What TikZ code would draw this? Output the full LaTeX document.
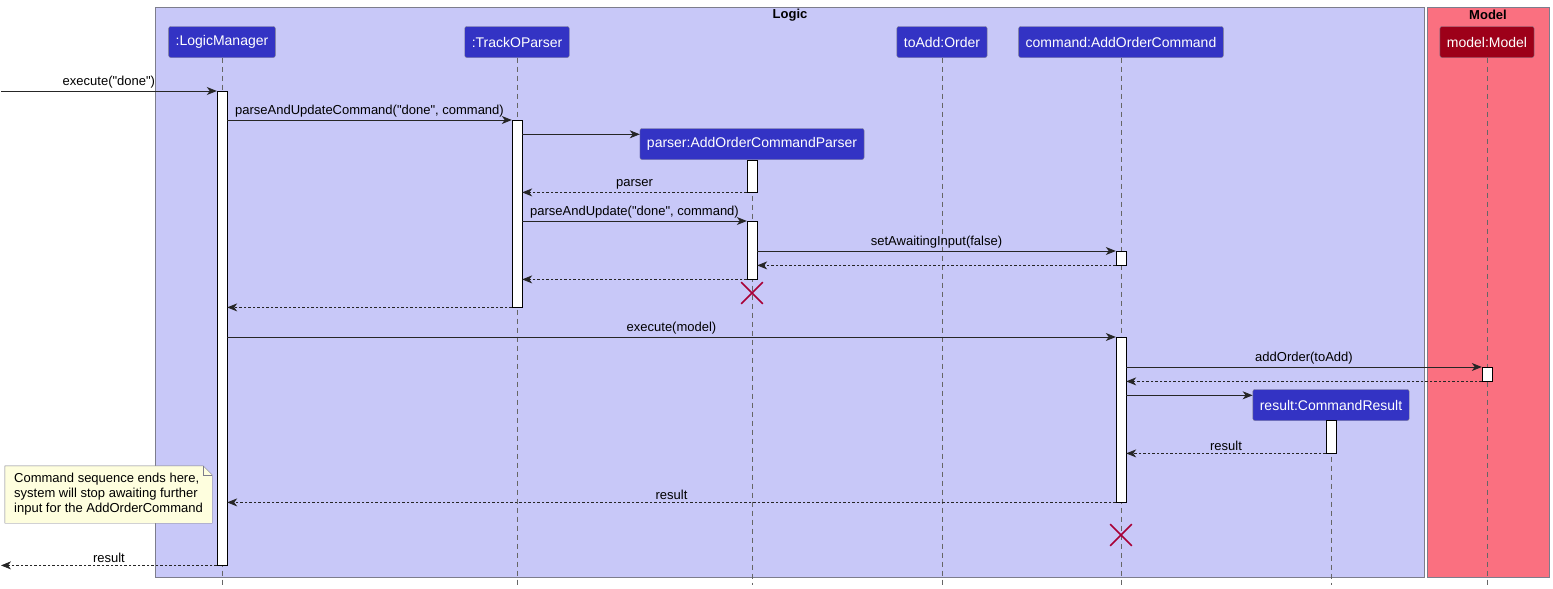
\documentclass[tikz,border=0pt]{standalone}
\usepackage{fontspec}
\setmainfont{Liberation Sans}[Ligatures=TeXOff]
\usetikzlibrary{arrows.meta,shapes.misc,backgrounds}

\definecolor{logicbg}{RGB}{200,200,248}
\definecolor{modelbg}{RGB}{250,112,128}
\definecolor{partblue}{RGB}{51,51,196}
\definecolor{partred}{RGB}{157,0,25}
\definecolor{framegray}{RGB}{125,125,140}
\definecolor{killred}{RGB}{168,0,54}
\definecolor{notebg}{RGB}{254,254,222}

\tikzset{
  head/.style={draw=framegray,fill=partblue,text=white,rounded corners=2pt,
    minimum height=31pt,inner xsep=7pt,font=\fontsize{14}{16}\selectfont},
  act/.style={draw=black,fill=white,minimum width=10pt,inner sep=0pt,anchor=north},
  life/.style={draw=black!60,dash pattern=on 5pt off 4pt,line width=0.6pt},
  msg/.style={->,line width=0.8pt,draw=black!85},
  ret/.style={msg,dash pattern=on 2.5pt off 2pt},
  lbl/.style={anchor=south,inner sep=2.5pt,font=\fontsize{13}{15}\selectfont},
  kill/.style={cross out,draw=killred,line width=1.6pt,minimum size=20pt,inner sep=0pt},
}

\begin{document}
\begin{tikzpicture}[x=1pt,y=-1pt,>={Stealth[length=10pt,width=8pt,inset=3pt]}]
  \useasboundingbox (0,0) rectangle (1553,589);

  \begin{scope}[on background layer]
    \draw[framegray,fill=logicbg] (155,7) rectangle (1424,577);
    \draw[framegray,fill=modelbg] (1427,7) rectangle (1549,577);
  \end{scope}
  \node[font=\bfseries\fontsize{13}{15}\selectfont] (tLogic) at (790,15) {Logic};
  \node[font=\bfseries\fontsize{13}{15}\selectfont] (tModel) at (1488,15) {Model};

  \node[head] (hLM) at (222,42) {:LogicManager};
  \node[head] (hTP) at (517,42) {:TrackOParser};
  \node[head] (hOrd) at (942,42) {toAdd:Order};
  \node[head] (hCmd) at (1121,42) {command:AddOrderCommand};
  \node[head,fill=partred] (hMod) at (1487,42) {model:Model};
  \node[head] (hPar) at (752,144) {parser:AddOrderCommandParser};
  \node[head] (hRes) at (1331,405) {result:CommandResult};

  \foreach \n in {hLM,hTP,hOrd,hCmd,hMod,hPar,hRes}
    \draw[life] (\n.south) -- (\n.south |- 0,585);

  \node[act,minimum height=474pt] (aLM) at (222,91) {};
  \node[act,minimum height=187pt] (aTP) at (517,120) {};
  \node[act,minimum height=32pt] (aPar1) at (752,160) {};
  \node[act,minimum height=58pt] (aPar2) at (752,221) {};
  \node[act,minimum height=14pt] (aCmd1) at (1121,251) {};
  \node[act,minimum height=165pt] (aCmd2) at (1121,337) {};
  \node[act,minimum height=14pt] (aMod) at (1487,367) {};
  \node[act,minimum height=33pt] (aRes) at (1331,420) {};

  \coordinate (caller) at (1,91);
  \coordinate (cPar) at ([yshift=-6pt]hPar.north west);
  \coordinate (cRes) at ([yshift=-6pt]hRes.north west);

  \draw[msg] (caller) -- (aLM.north west) node[lbl,midway] {execute("done")};
  \draw[msg] (aLM.east |- aTP.north) -- (aTP.north west)
    node[lbl,midway] {parseAndUpdateCommand("done", command)};
  \draw[msg] (aTP.east |- cPar) -- (cPar);
  \draw[ret] (aPar1.south west) -- (aTP.east |- aPar1.south) node[lbl,midway] {parser};
  \draw[msg] (aTP.east |- aPar2.north) -- (aPar2.north west)
    node[lbl,midway] {parseAndUpdate("done", command)};
  \draw[msg] (aPar2.east |- aCmd1.north) -- (aCmd1.north west)
    node[lbl,midway] {setAwaitingInput(false)};
  \draw[ret] (aCmd1.south west) -- (aPar2.east |- aCmd1.south);
  \draw[ret] (aPar2.south west) -- (aTP.east |- aPar2.south);
  \node[kill] (xPar) at (752,293) {};
  \draw[ret] (aTP.south west) -- (aLM.east |- aTP.south);

  \draw[msg] (aLM.east |- aCmd2.north) -- (aCmd2.north west) node[lbl,midway] {execute(model)};
  \draw[msg] (aCmd2.east |- aMod.north) -- (aMod.north west) node[lbl,midway] {addOrder(toAdd)};
  \draw[ret] (aMod.south west) -- (aCmd2.east |- aMod.south);
  \draw[msg] (aCmd2.east |- cRes) -- (cRes);
  \draw[ret] (aRes.south west) -- (aCmd2.east |- aRes.south) node[lbl,midway] {result};
  \draw[ret] (aCmd2.south west) -- (aLM.east |- aCmd2.south) node[lbl,midway] {result};
  \node[kill] (xCmd) at (1121,535) {};
  \draw[ret] (aLM.south west) -- (caller |- aLM.south) node[lbl,midway] {result};

  % note beside the manager
  \node[align=left,font=\fontsize{13}{15}\selectfont,minimum width=207pt,minimum height=57pt,inner xsep=7pt]
    (nEnd) at (108.5,494.5) {Command sequence ends here,\\system will stop awaiting further\\input for the AddOrderCommand};
  \begin{scope}[on background layer]
    \draw[framegray,fill=notebg] (nEnd.north west) -- ([xshift=-9pt]nEnd.north east)
      -- ([yshift=-9pt]nEnd.north east) -- (nEnd.south east) -- (nEnd.south west) -- cycle;
  \end{scope}
  \draw[framegray] ([xshift=-9pt]nEnd.north east) |- ([yshift=-9pt]nEnd.north east);
\end{tikzpicture}
\end{document}
